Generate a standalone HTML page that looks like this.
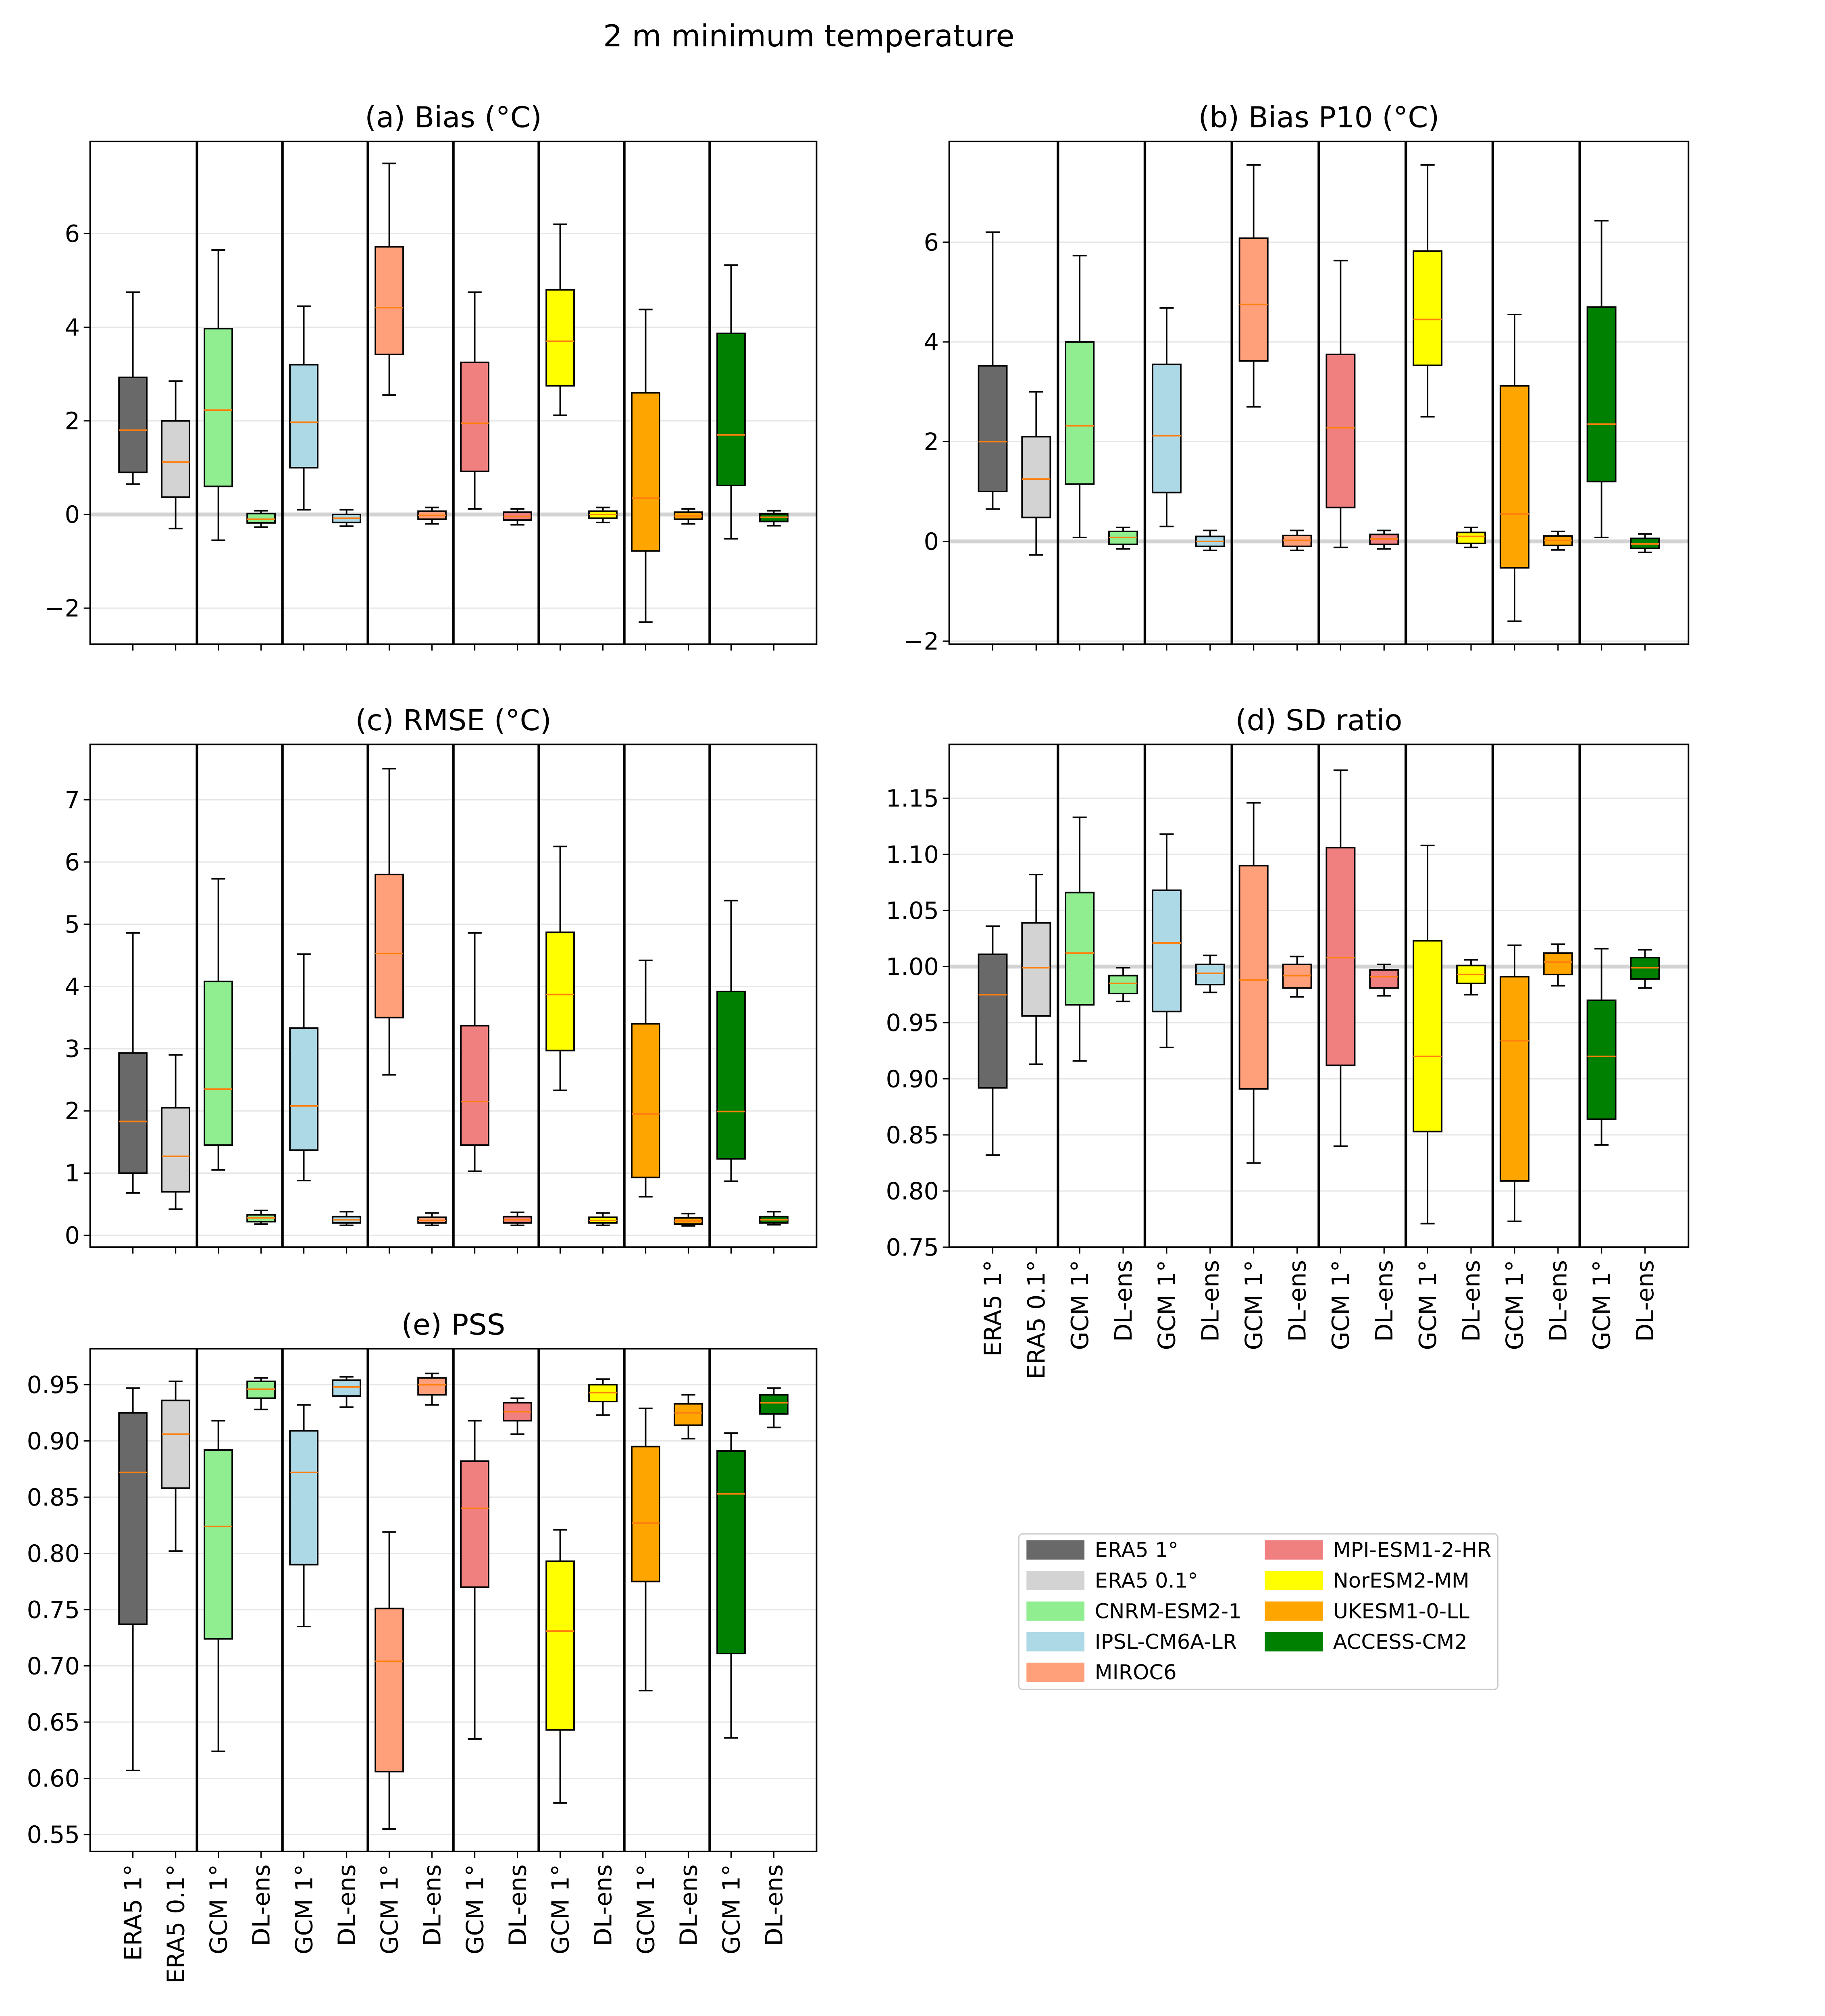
<!DOCTYPE html>
<html><head><meta charset="utf-8">
<style>
html,body{margin:0;padding:0;background:#fff;width:100vw;height:100vh;overflow:hidden;}
svg{display:block;position:absolute;left:0;top:0;width:100vw;height:100vh;font-family:"DejaVu Sans","Liberation Sans",sans-serif;}
</style></head>
<body>
<svg id="fig" viewBox="0 0 1417 1568" preserveAspectRatio="none" xmlns="http://www.w3.org/2000/svg">
<rect width="1417" height="1568" fill="#fff"/>
<text x="628" y="36" font-size="23.5" text-anchor="middle">2 m minimum temperature</text>
</svg>
<script>
const colors = ["#696969","#d3d3d3","#90ee90","#90ee90","#add8e6","#add8e6","#ffa07a","#ffa07a","#f08080","#f08080","#ffff00","#ffff00","#ffa500","#ffa500","#008000","#008000"];
const xLabels = ["ERA5 1°","ERA5 0.1°","GCM 1°","DL-ens","GCM 1°","DL-ens","GCM 1°","DL-ens","GCM 1°","DL-ens","GCM 1°","DL-ens","GCM 1°","DL-ens","GCM 1°","DL-ens"];
// each box: [whisker high, q3, median, q1, whisker low]
const biasData = [[4.75,2.93,1.8,0.9,0.65],[2.85,2.0,1.12,0.37,-0.3],[5.65,3.97,2.23,0.6,-0.55],[0.08,0.02,-0.1,-0.18,-0.27],[4.45,3.2,1.97,1.0,0.1],[0.1,0.0,-0.08,-0.17,-0.25],[7.5,5.72,4.42,3.42,2.55],[0.15,0.07,-0.02,-0.1,-0.2],[4.75,3.25,1.95,0.92,0.12],[0.12,0.05,-0.04,-0.12,-0.22],[6.2,4.8,3.7,2.75,2.12],[0.15,0.07,0.0,-0.08,-0.17],[4.38,2.6,0.35,-0.78,-2.3],[0.12,0.05,-0.03,-0.1,-0.2],[5.33,3.87,1.7,0.62,-0.52],[0.08,0.01,-0.06,-0.15,-0.24]];
const p10Data = [[6.2,3.52,2.0,1.0,0.65],[3.0,2.1,1.25,0.48,-0.27],[5.73,4.0,2.32,1.15,0.08],[0.28,0.2,0.08,-0.06,-0.15],[4.68,3.55,2.12,0.98,0.3],[0.22,0.1,0.0,-0.1,-0.18],[7.55,6.08,4.75,3.62,2.7],[0.22,0.12,0.02,-0.1,-0.18],[5.63,3.75,2.28,0.68,-0.12],[0.22,0.14,0.05,-0.06,-0.15],[7.55,5.82,4.45,3.53,2.5],[0.28,0.18,0.1,-0.04,-0.12],[4.55,3.12,0.55,-0.53,-1.6],[0.2,0.11,0.02,-0.08,-0.17],[6.43,4.7,2.35,1.2,0.08],[0.15,0.06,-0.05,-0.14,-0.22]];
const rmseData = [[4.86,2.93,1.83,1.0,0.68],[2.9,2.05,1.27,0.7,0.42],[5.73,4.08,2.35,1.45,1.05],[0.4,0.33,0.28,0.22,0.18],[4.52,3.33,2.08,1.37,0.88],[0.38,0.3,0.25,0.2,0.16],[7.5,5.8,4.53,3.5,2.58],[0.36,0.29,0.24,0.2,0.16],[4.86,3.37,2.15,1.45,1.03],[0.37,0.3,0.25,0.2,0.16],[6.25,4.87,3.87,2.97,2.33],[0.36,0.29,0.24,0.2,0.16],[4.42,3.4,1.95,0.93,0.62],[0.35,0.28,0.23,0.18,0.15],[5.38,3.92,1.99,1.23,0.87],[0.38,0.3,0.25,0.2,0.17]];
const sdData = [[1.036,1.011,0.975,0.892,0.832],[1.082,1.039,0.999,0.956,0.913],[1.133,1.066,1.012,0.966,0.916],[0.999,0.992,0.985,0.976,0.969],[1.118,1.068,1.021,0.96,0.928],[1.010,1.002,0.994,0.984,0.977],[1.146,1.09,0.988,0.891,0.825],[1.009,1.002,0.992,0.981,0.973],[1.175,1.106,1.008,0.912,0.840],[1.002,0.997,0.991,0.981,0.974],[1.108,1.023,0.92,0.853,0.771],[1.006,1.001,0.993,0.985,0.975],[1.019,0.991,0.934,0.809,0.773],[1.020,1.012,1.004,0.993,0.983],[1.016,0.970,0.920,0.864,0.841],[1.015,1.008,0.999,0.989,0.981]];
const pssData = [[0.947,0.925,0.872,0.737,0.607],[0.953,0.936,0.906,0.858,0.802],[0.918,0.892,0.824,0.724,0.624],[0.956,0.953,0.946,0.938,0.928],[0.932,0.909,0.872,0.790,0.735],[0.957,0.954,0.948,0.940,0.930],[0.819,0.751,0.704,0.606,0.555],[0.960,0.956,0.950,0.941,0.932],[0.918,0.882,0.840,0.770,0.635],[0.938,0.934,0.926,0.918,0.906],[0.821,0.793,0.731,0.643,0.578],[0.955,0.950,0.943,0.935,0.923],[0.929,0.895,0.827,0.775,0.678],[0.941,0.933,0.925,0.914,0.902],[0.907,0.891,0.853,0.711,0.636],[0.947,0.941,0.934,0.924,0.912]];
const biasTicks = [-2,0,2,4,6];
const rmseTicks = [0,1,2,3,4,5,6,7];
const ratioTicks = [0.75,0.80,0.85,0.90,0.95,1.00,1.05,1.10,1.15];
const pssTicks = [0.55,0.60,0.65,0.70,0.75,0.80,0.85,0.90,0.95];
const legendNames = ["ERA5 1°","ERA5 0.1°","CNRM-ESM2-1","IPSL-CM6A-LR","MIROC6","MPI-ESM1-2-HR","NorESM2-MM","UKESM1-0-LL","ACCESS-CM2"];
const legendColors = ["#696969","#d3d3d3","#90ee90","#add8e6","#ffa07a","#f08080","#ffff00","#ffa500","#008000"];

const NS="http://www.w3.org/2000/svg";
const svg=document.getElementById('fig');
function mk(tag,attrs,parent){const e=document.createElementNS(NS,tag);for(const k in attrs)e.setAttribute(k,attrs[k]);(parent||svg).appendChild(e);return e;}

function panel(name,title,x0,y0,w,h,ymin,ymax,data,ticks,dec,refLine,showX){
  const g=mk('g',{});
  
  
  const xs=v=>x0+v/17*w;
  const ys=v=>y0+h-(v-ymin)/(ymax-ymin)*h;
  ticks.forEach(t=>{
    const y=ys(t);
    const gl=mk('line',{x1:x0,x2:x0+w,y1:y,y2:y,stroke:'#e6e6e6','stroke-width':1},g);
    
    
    mk('line',{x1:x0-5,x2:x0,y1:y,y2:y,stroke:'#000','stroke-width':1},g);
    const tl=mk('text',{x:x0-8,y:y+6.5,'font-size':18.5,'text-anchor':'end'},g);
    tl.textContent=(t<0?'\u2212':'')+Math.abs(t).toFixed(dec);
    
    
  });
  if(refLine>ymin && refLine<ymax){
    const rl=mk('line',{x1:x0,x2:x0+w,y1:ys(refLine),y2:ys(refLine),stroke:'#d3d3d3','stroke-width':3},g);
    
    
  }
  for(let s=2.5;s<16;s+=2){
    const sl=mk('line',{x1:xs(s),x2:xs(s),y1:y0,y2:y0+h,stroke:'#000','stroke-width':2},g);
    
    
  }
  const bw=0.65*w/17;
  data.forEach((d,i)=>{
    const cx=xs(i+1);
    const bg=mk('g',{},g);
    
    
    mk('line',{x1:cx,x2:cx,y1:ys(d[0]),y2:ys(d[1]),stroke:'#000','stroke-width':1.2},bg);
    mk('line',{x1:cx,x2:cx,y1:ys(d[3]),y2:ys(d[4]),stroke:'#000','stroke-width':1.2},bg);
    mk('line',{x1:cx-bw/4,x2:cx+bw/4,y1:ys(d[0]),y2:ys(d[0]),stroke:'#000','stroke-width':1.2},bg);
    mk('line',{x1:cx-bw/4,x2:cx+bw/4,y1:ys(d[4]),y2:ys(d[4]),stroke:'#000','stroke-width':1.2},bg);
    mk('rect',{x:cx-bw/2,y:ys(d[1]),width:bw,height:Math.max(0.5,ys(d[3])-ys(d[1])),fill:colors[i],stroke:'#000','stroke-width':1.2},bg);
    mk('line',{x1:cx-bw/2,x2:cx+bw/2,y1:ys(d[2]),y2:ys(d[2]),stroke:'#ff7f0e','stroke-width':1.2},bg);
    mk('line',{x1:cx,x2:cx,y1:y0+h,y2:y0+h+5,stroke:'#000','stroke-width':1},g);
    if(showX){
      const yl=y0+h+10;
      const t=mk('text',{x:cx+6.5,y:yl,'font-size':18.5,'text-anchor':'end',transform:`rotate(-90 ${cx+6.5} ${yl})`},g);
      t.textContent=xLabels[i];
      
      
    }
  });
  mk('rect',{x:x0,y:y0,width:w,height:h,fill:'none',stroke:'#000','stroke-width':1.2},g);
  const tt=mk('text',{x:x0+w/2,y:y0-11,'font-size':22.5,'text-anchor':'middle'},g);
  tt.textContent=title;
  
  
}
panel('panel-a-bias','(a) Bias (°C)',70,110,564,391,-2.77,7.97,biasData,biasTicks,0,0,false);
panel('panel-b-bias-p10','(b) Bias P10 (°C)',737,110,574,391,-2.06,8.02,p10Data,biasTicks,0,0,false);
panel('panel-c-rmse','(c) RMSE (°C)',70,579,564,391,-0.19,7.89,rmseData,rmseTicks,0,-10,false);
panel('panel-d-sd-ratio','(d) SD  ratio',737,579,574,391,0.75,1.198,sdData,ratioTicks,2,1.0,true);
panel('panel-e-pss','(e) PSS',70,1049,564,391,0.535,0.982,pssData,pssTicks,2,-10,true);

const lg=mk('g',{});


mk('rect',{x:791,y:1193,width:372,height:121,fill:'#fff',stroke:'#ccc','stroke-width':1,rx:3},lg);
legendNames.forEach((n,i)=>{
  const col=i<5?0:1,row=i<5?i:i-5;
  const px=col?982:797,py=1198+row*23.8;
  const e=mk('g',{},lg);
  
  
  mk('rect',{x:px,y:py,width:45,height:15,fill:legendColors[i]},e);
  const t=mk('text',{x:px+53,y:py+13,'font-size':16},e);
  t.textContent=n;
});
</script>
</body></html>
